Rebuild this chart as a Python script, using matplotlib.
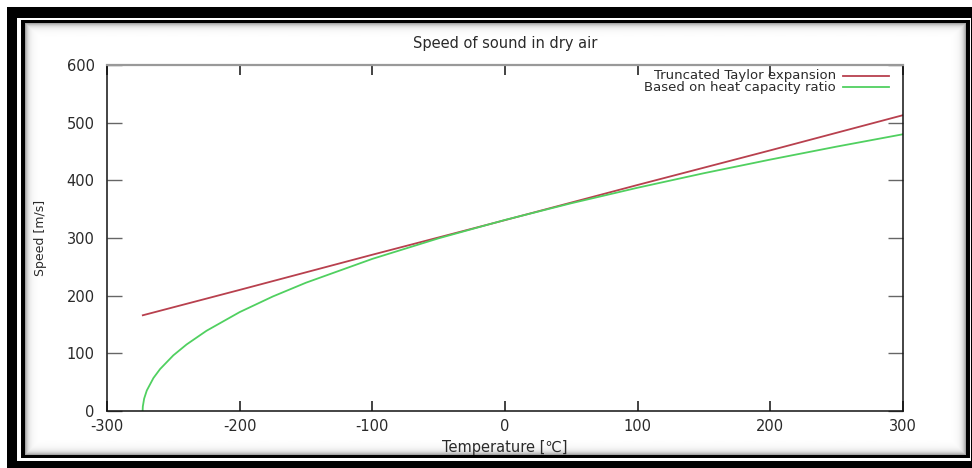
#%%
# imports
import numpy as np
import matplotlib
matplotlib.use("Agg")
import matplotlib.pyplot as plt

plt.rcParams["axes.unicode_minus"] = False

# %%
# values (temperature in degC, speed in m/s)
temp_taylor = [-273, -200, -100, 0, 100, 200, 300]
speed_taylor = [166, 210, 271, 331, 392, 452, 513]

temp_gamma = [-273.15, -273, -272, -270, -265, -260, -250, -240, -225, -200,
              -175, -150, -100, -50, 0, 50, 100, 150, 200, 250, 300]
speed_gamma = [0, 7.8, 21.5, 35.6, 57.2, 72.7, 96.5, 115.4, 139.1, 171.5,
               198.6, 222.5, 263.8, 299.5, 331.3, 360.3, 387.2, 412.4, 436.0, 458.5, 479.9]

x_ticks = [-300, -200, -100, 0, 100, 200, 300]
y_ticks = [0, 100, 200, 300, 400, 500, 600]

labels = ["Truncated Taylor expansion", "Based on heat capacity ratio"]
colors = ["#b8404e", "#50d060"]

W, H = 972, 468

# %%
fig = plt.figure(figsize=(W / 100, H / 100), dpi=100)

# picture frame drawn as a background image
frame = np.ones((H, W))
frame[7:, 7:] = 0.0          # thick black border
frame[18:461, 17:970] = 1.0  # white gap
frame[20:458, 21:969] = 0.0  # thin black line
yy, xx = np.mgrid[0:H, 0:W]
inner = (yy >= 23) & (yy < 455) & (xx >= 25) & (xx < 965)
d = np.minimum.reduce([yy - 23, 454 - yy, xx - 25, 964 - xx]).astype(float)
shade = 1.0 - 0.35 * np.exp(-d / 3.0)
frame[inner] = shade[inner]

bg = fig.add_axes([0, 0, 1, 1], zorder=-1)
bg.imshow(frame, cmap="gray", vmin=0, vmax=1, extent=(0, W, H, 0),
          aspect="auto", interpolation="bilinear")
bg.axis("off")

# %%
# plot area
ax = fig.add_axes([107 / W, 1 - 411 / H, (903 - 107) / W, (411 - 65) / H])
ax.set_facecolor("none")

ax.plot(temp_taylor, speed_taylor, color=colors[0], lw=1.3)
ax.plot(temp_gamma, speed_gamma, color=colors[1], lw=1.3)

ax.set_xlim(-300, 300)
ax.set_ylim(0, 600)
ax.set_xticks(x_ticks)
ax.set_yticks(y_ticks)

fs = 10.5
txt = "#2a2a2a"
ax.tick_params(axis="x", direction="in", length=7, width=1.2, color="#222",
               top=True, pad=6, labelsize=fs, labelcolor=txt)
ax.tick_params(axis="y", direction="in", length=11, width=1.0, color="#666",
               right=True, pad=9, labelsize=fs, labelcolor=txt)
for side in ["left", "bottom", "right"]:
    ax.spines[side].set_color("#111")
    ax.spines[side].set_linewidth(1.1)
ax.spines["top"].set_color("#999")
ax.spines["top"].set_linewidth(1.6)

ax.set_title("Speed of sound in dry air", fontsize=fs, color=txt, pad=12)
ax.set_xlabel("Temperature [\u2103]", fontsize=fs, color=txt, labelpad=4)
ax.set_ylabel("Speed [m/s]", fontsize=fs - 1.5, color=txt, labelpad=14)

# key in the upper right, gnuplot style
for i, (lab, col) in enumerate(zip(labels, colors)):
    y = 0.969 - i * 0.033
    ax.text(0.916, y, lab, transform=ax.transAxes, ha="right", va="center",
            fontsize=9.5, color=txt)
    ax.plot([0.925, 0.983], [y, y], transform=ax.transAxes, color=col, lw=1.3)

# %%
fig.savefig("out.png", dpi=100)
